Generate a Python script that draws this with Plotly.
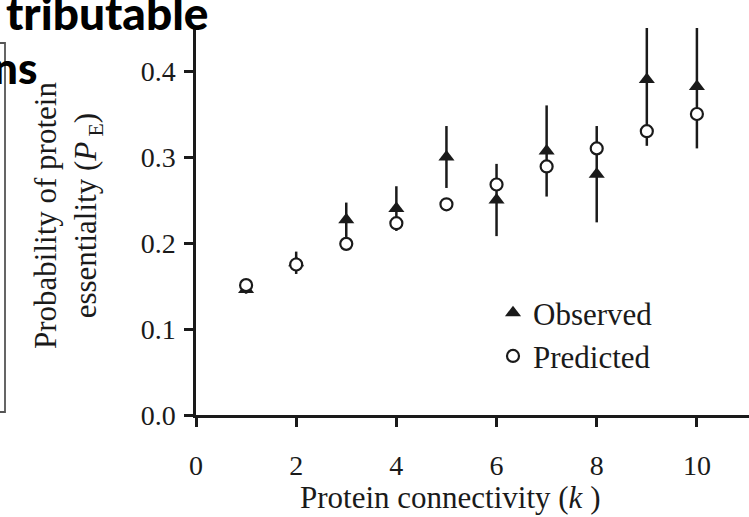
import plotly.graph_objects as go

# ---- data ----
k_values = [1, 2, 3, 4, 5, 6, 7, 8, 9, 10]
observed = [0.146, 0.177, 0.227, 0.240, 0.300, 0.250, 0.307, 0.280, 0.390, 0.382]
observed_err = [0.005, 0.013, 0.020, 0.026, 0.036, 0.042, 0.053, 0.056, 0.077, 0.072]
predicted = [0.151, 0.175, 0.199, 0.223, 0.245, 0.268, 0.289, 0.310, 0.330, 0.350]

x_tickvals = [0, 2, 4, 6, 8, 10]
x_ticktext = ["0", "2", "4", "6", "8", "10"]
y_tickvals = [0.0, 0.1, 0.2, 0.3, 0.4]
y_ticktext = ["0.0", "0.1", "0.2", "0.3", "0.4"]

SERIF = "Liberation Serif, Times New Roman, serif"
INK = "#1a1a1a"

fig = go.Figure()

fig.add_trace(go.Scatter(
    x=k_values, y=observed, name="Observed", mode="markers",
    marker=dict(symbol="triangle-up", size=14, color=INK),
    error_y=dict(type="data", array=observed_err, visible=True,
                 color=INK, thickness=2.5, width=0),
))
fig.add_trace(go.Scatter(
    x=k_values, y=predicted, name="Predicted", mode="markers",
    marker=dict(symbol="circle", size=12, color="white",
                line=dict(color=INK, width=2.2)),
))

W, H = 749, 517
L, R, T, B = 196, 0, 28, 102
pw, ph = W - L - R, H - T - B


def px_x(p):
    return (p - L) / pw


def px_y(p):
    return (H - B - p) / ph


fig.update_layout(
    width=W, height=H,
    margin=dict(l=L, r=R, t=T, b=B),
    paper_bgcolor="white", plot_bgcolor="white",
    font=dict(family=SERIF, color=INK, size=28),
    showlegend=True,
    legend=dict(
        x=px_x(493), y=px_y(286), xanchor="left", yanchor="top",
        font=dict(family=SERIF, size=31, color=INK),
        bgcolor="rgba(0,0,0,0)", borderwidth=0,
        itemwidth=30,
    ),
    xaxis=dict(
        range=[0, 11.04], tickmode="array",
        tickvals=x_tickvals, ticktext=x_ticktext,
        showline=True, linecolor=INK, linewidth=2.5,
        ticks="outside", ticklen=9, tickwidth=2.5, tickcolor=INK,
        showgrid=False, zeroline=False,
        tickfont=dict(family=SERIF, size=28, color=INK),
        ticklabelstandoff=15,
    ),
    yaxis=dict(
        range=[0, 0.45], tickmode="array",
        tickvals=y_tickvals, ticktext=y_ticktext,
        showline=True, linecolor=INK, linewidth=2.5,
        ticks="outside", ticklen=9, tickwidth=2.5, tickcolor=INK,
        showgrid=False, zeroline=False,
        tickfont=dict(family=SERIF, size=28, color=INK),
        ticklabelstandoff=3,
    ),
)

annotations = [
    # x axis title
    dict(text="Protein connectivity (<i>k</i> )", x=px_x(450), y=px_y(497),
         xref="paper", yref="paper", xanchor="center", yanchor="middle",
         showarrow=False, font=dict(family=SERIF, size=31, color=INK)),
    # y axis title
    dict(text="Probability of protein<br>essentiality (<i>P</i><sub> E</sub>)",
         x=px_x(68), y=px_y(216), xref="paper", yref="paper",
         xanchor="center", yanchor="middle", textangle=-90,
         showarrow=False, font=dict(family=SERIF, size=31, color=INK)),
    # cut-off heading from the neighbouring panel
    dict(text="tributable", x=px_x(211), y=px_y(13),
         xref="paper", yref="paper", xanchor="right", yanchor="middle",
         showarrow=False,
         font=dict(family="Lato, Noto Sans, sans-serif", size=46,
                   color="black", weight=900)),
    dict(text="ns", x=px_x(39), y=px_y(67),
         xref="paper", yref="paper", xanchor="right", yanchor="middle",
         showarrow=False,
         font=dict(family="Lato, Noto Sans, sans-serif", size=44,
                   color="black", weight=900)),
]
fig.update_layout(annotations=annotations)

# frame edge of the neighbouring panel on the left
fig.add_shape(type="rect", xref="paper", yref="paper",
              x0=px_x(-20), x1=px_x(5), y0=px_y(412), y1=px_y(43),
              line=dict(color="#555555", width=1.8), fillcolor="rgba(0,0,0,0)",
              layer="below")

fig.write_html("out.html",
               config={"displayModeBar": False},
               post_script="document.body.style.margin='0';"
                           "document.body.style.padding='0';")
